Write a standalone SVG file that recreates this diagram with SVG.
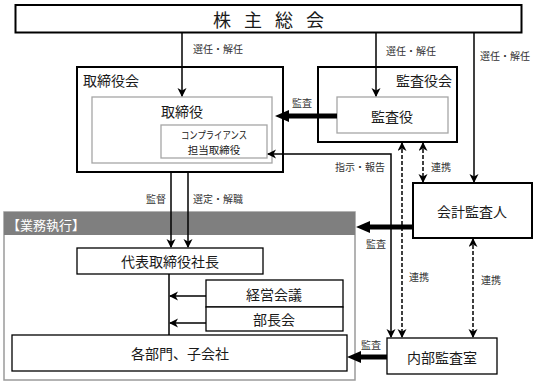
<svg xmlns="http://www.w3.org/2000/svg" width="537" height="384" viewBox="0 0 537 384">
<defs>
<style>
text{font-family:"Noto Sans CJK JP","Noto Sans CJK SC",sans-serif;fill:#1a1a1a;dominant-baseline:central;text-anchor:middle}
.t14{font-size:14px}
.lbl{font-size:10px;fill:#333}
.box{fill:#fff;stroke:#000;stroke-width:2}
.thin{fill:#fff;stroke:#000;stroke-width:1.3}
.gray{fill:#fff;stroke:#a6a6a6;stroke-width:1.3}
.ln{fill:none;stroke:#000;stroke-width:1.5}
.dash{fill:none;stroke:#000;stroke-width:1.5;stroke-dasharray:4 2}
.thick{fill:none;stroke:#000;stroke-width:5}
</style>
<marker id="a" markerUnits="userSpaceOnUse" markerWidth="10" markerHeight="10" refX="8" refY="4.5" orient="auto-start-reverse"><path d="M0,0 L9,4.5 L0,9 L2.5,4.5 z" fill="#000"/></marker>
</defs>

<g id="kabunushi"><rect class="box" x="15.5" y="5" width="506" height="27.5"/><text x="213" y="19" style="font-size:18px;letter-spacing:13px;text-anchor:start">株主総会</text></g>

<g id="torishimariyakukai"><rect class="box" x="77" y="67" width="206" height="105"/><text class="t14" x="83" y="80" style="text-anchor:start">取締役会</text></g>
<g id="torishimariyaku"><rect class="gray" x="92" y="97" width="180" height="66"/><text class="t14" x="182" y="111">取締役</text></g>
<g id="compliance"><rect class="gray" x="161" y="125" width="106" height="33"/><text x="214" y="134.5" style="font-size:10.5px" textLength="66" lengthAdjust="spacingAndGlyphs">コンプライアンス</text><text x="214" y="149.5" style="font-size:10.5px">担当取締役</text></g>

<g id="kansayakukai"><rect class="box" x="318" y="67" width="139" height="75"/><text class="t14" x="452" y="80" style="text-anchor:end">監査役会</text></g>
<g id="kansayaku"><rect class="gray" x="337" y="97" width="111" height="36"/><text class="t14" x="392" y="116">監査役</text></g>

<g id="kaikeikansanin"><rect class="box" x="413" y="183" width="119" height="55"/><text class="t14" x="472" y="211">会計監査人</text></g>

<g id="gyomushikko"><rect x="4" y="212" width="351" height="168" fill="#fff" stroke="#9a9a9a" stroke-width="1.5"/><rect x="4" y="212" width="351" height="23" fill="#7f7f7f"/><text x="7" y="224" style="font-size:13px;fill:#fff;text-anchor:start">【業務執行】</text></g>
<g id="shacho"><rect class="thin" x="77" y="248" width="186" height="26"/><text class="t14" x="170" y="261">代表取締役社長</text></g>
<g id="keieikaigi"><rect class="thin" x="206" y="280" width="137" height="27"/><text class="t14" x="274" y="294">経営会議</text></g>
<g id="buchokai"><rect class="thin" x="206" y="307" width="137" height="24"/><text class="t14" x="274" y="319">部長会</text></g>
<g id="kakubumon"><rect class="thin" x="12" y="335" width="335" height="36"/><text class="t14" x="180" y="353">各部門、子会社</text></g>

<g id="naibukansashitsu"><rect class="thin" x="387" y="338" width="110" height="36"/><text class="t14" x="442" y="357">内部監査室</text></g>

<g id="connectors">
<path class="ln" d="M182,33 V96" marker-end="url(#a)"/>
<path class="ln" d="M376,33 V96" marker-end="url(#a)"/>
<path class="ln" d="M474,33 V182" marker-end="url(#a)"/>
<text class="lbl" x="218" y="48">選任・解任</text>
<text class="lbl" x="411" y="50">選任・解任</text>
<text class="lbl" x="505" y="55">選任・解任</text>

<path class="thick" d="M337,116 H289"/><polygon points="289,110 275,116 289,122" fill="#000"/>
<text class="lbl" x="302" y="102">監査</text>

<path class="ln" d="M391,337 V154 H268" marker-start="url(#a)" marker-end="url(#a)"/>
<text class="lbl" x="360" y="166">指示・報告</text>

<path class="dash" d="M402,143 V337" marker-start="url(#a)" marker-end="url(#a)"/>
<path class="dash" d="M423,143 V182" marker-start="url(#a)" marker-end="url(#a)"/>
<path class="dash" d="M473,239 V337" marker-start="url(#a)" marker-end="url(#a)"/>
<text class="lbl" x="441" y="166">連携</text>
<text class="lbl" x="419" y="276">連携</text>
<text class="lbl" x="491" y="279">連携</text>

<path class="thick" d="M413,227 H370"/><polygon points="370,221 356,227 370,233" fill="#000"/>
<text class="lbl" x="376" y="243">監査</text>

<path class="thick" d="M387,357 H361"/><polygon points="361,351 347,357 361,363" fill="#000"/>
<text class="lbl" x="371" y="344">監査</text>

<path class="ln" d="M171,172 V247" marker-end="url(#a)"/>
<path class="ln" d="M188,172 V247" marker-end="url(#a)"/>
<text class="lbl" x="156" y="198">監督</text>
<text class="lbl" x="218" y="198">選定・解職</text>

<path class="ln" d="M169,274 V335"/>
<path class="ln" d="M206,296 H170" marker-end="url(#a)"/>
<path class="ln" d="M206,323 H170" marker-end="url(#a)"/>
</g>
</svg>
